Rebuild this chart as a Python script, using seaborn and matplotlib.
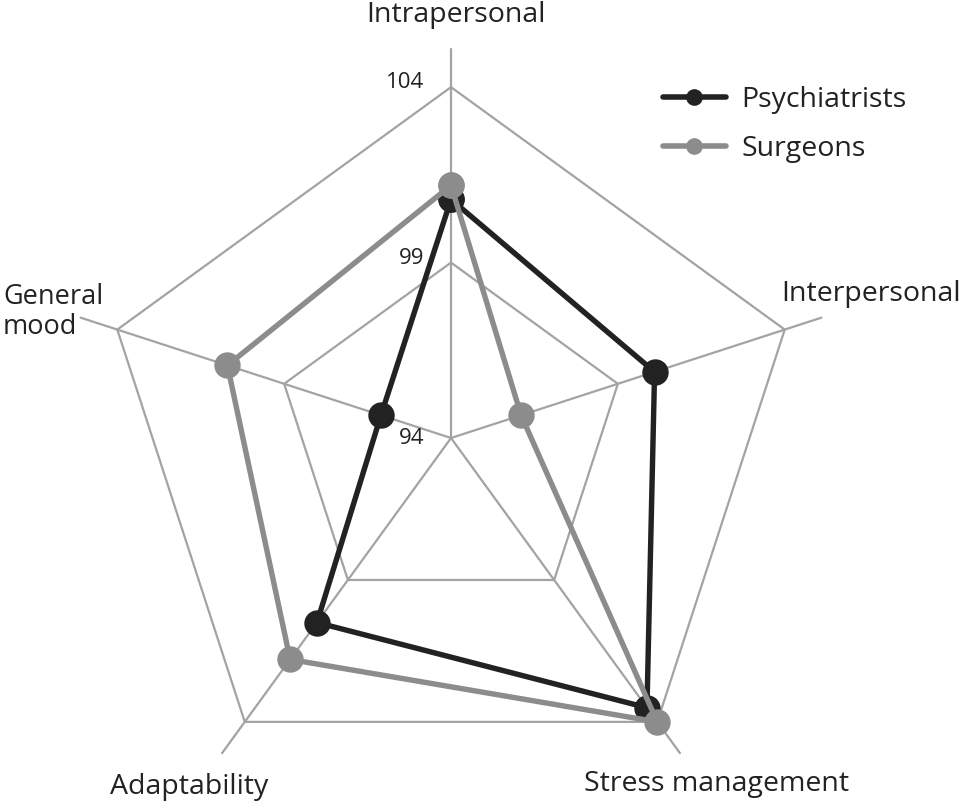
import numpy as np
import pandas as pd
import matplotlib
matplotlib.use('Agg')
import matplotlib.pyplot as plt
from matplotlib.lines import Line2D
import seaborn as sns

#%% data
categories = ['Intrapersonal', 'Interpersonal', 'Stress management', 'Adaptability', 'General mood']
groups = ['Psychiatrists', 'Surgeons']
psychiatrists = [100.8, 100.1, 103.5, 100.5, 96.1]
surgeons = [101.2, 96.1, 104.0, 101.8, 100.7]
tick_values = [94, 99, 104]

colors = {'Psychiatrists': '#222222', 'Surgeons': '#8c8c8c'}
grid_col = '#a3a3a3'
text_col = '#222222'

sns.set_style('white')
plt.rcParams['font.family'] = ['Open Sans', 'DejaVu Sans']

#%% long table, closing each polygon
angles = np.linspace(0, 2 * np.pi, len(categories), endpoint=False)
closed = np.append(angles, 2 * np.pi)

rows = []
for g, vals in zip(groups, [psychiatrists, surgeons]):
    for a, v in zip(closed, vals + vals[:1]):
        rows.append({'angle': a, 'score': v, 'group': g})
df = pd.DataFrame(rows)

#%% figure
fig = plt.figure(figsize=(9.59, 8.08), dpi=100)
ax = fig.add_axes([0.0605, -0.0285, 0.8196, 0.9728], projection='polar')
ax.set_theta_offset(np.pi / 2)
ax.set_theta_direction(-1)
ax.set_ylim(94, 105.2)
ax.grid(False)
ax.spines['polar'].set_visible(False)
ax.patch.set_alpha(0)

# pentagon grid + spokes
for t in tick_values[1:]:
    ax.plot(closed, [t] * len(closed), color=grid_col, lw=1.6, zorder=1)
for a in angles:
    ax.plot([a, a], [94, 105.1], color=grid_col, lw=1.6, zorder=1)

sns.lineplot(data=df, x='angle', y='score', hue='group', hue_order=groups,
             palette=colors, sort=False, estimator=None, marker='o',
             markersize=19, markeredgewidth=0, linewidth=3.9,
             legend=False, ax=ax, zorder=3)

ax.set_xticks([])
ax.set_yticks([])
ax.set_xlabel('')
ax.set_ylabel('')

for t in tick_values:
    ax.annotate(str(t), xy=(0, t), xytext=(-19, 3 if t > 94 else 0),
                textcoords='offset points', ha='right', va='center',
                fontsize=16, color=text_col)

# axis labels
fs = 20.5
fig.text(456 / 959, 1 - 15 / 808, 'Intrapersonal', ha='center', va='center', fontsize=fs, color=text_col)
fig.text(871 / 959, 1 - 294 / 808, 'Interpersonal', ha='center', va='center', fontsize=fs, color=text_col)
fig.text(717 / 959, 1 - 784 / 808, 'Stress management', ha='center', va='center', fontsize=fs, color=text_col)
fig.text(189 / 959, 1 - 787 / 808, 'Adaptability', ha='center', va='center', fontsize=fs, color=text_col)
fig.text(3 / 959, 1 - 312 / 808, 'General\nmood', ha='left', va='center', ma='left',
         fontsize=19.5, color=text_col, linespacing=1.05)

# legend
handles = [Line2D([0], [0], color=colors[g], lw=4, marker='o', markersize=12,
                  markeredgewidth=0) for g in groups]
fig.legend(handles, groups, loc='upper left', bbox_to_anchor=(663 / 959, 1 - 86 / 808),
           frameon=False, borderpad=0, borderaxespad=0, handlelength=2.2,
           handletextpad=0.55, labelspacing=0.75, fontsize=fs, labelcolor=text_col)

fig.savefig('out.png', dpi=100)
